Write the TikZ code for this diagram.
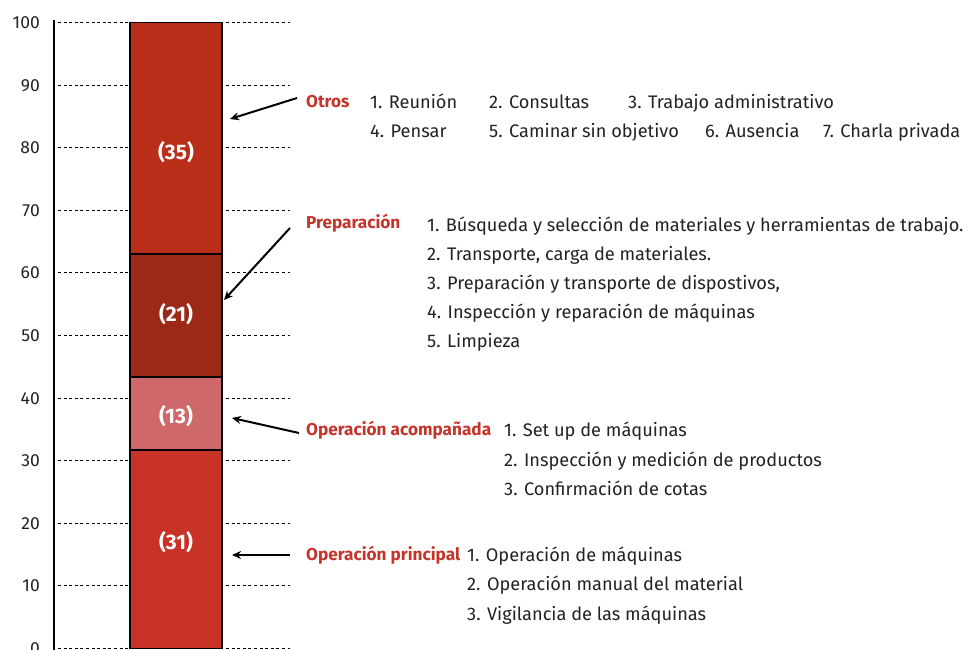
\documentclass[tikz,border=0pt]{standalone}
\usepackage{fontspec}
\setmainfont{Fira Sans}
\usetikzlibrary{arrows.meta}
\definecolor{segA}{HTML}{B82E19}
\definecolor{segB}{HTML}{9C2917}
\definecolor{segC}{HTML}{CE686A}
\definecolor{segD}{HTML}{C93226}
\definecolor{labred}{HTML}{C4342A}
\definecolor{txt}{HTML}{222222}
\tikzset{
  grid/.style={line width=1pt, dash pattern=on 3pt off 2.6pt, black},
  seg/.style={draw=black, line width=1.8pt},
  val/.style={text=white, font=\fontsize{21}{23}\selectfont\bfseries},
  tick/.style={anchor=base east, text=txt, font=\fontsize{17.5}{19}\selectfont, inner sep=0pt},
  cat/.style={anchor=base west, text=labred, font=\fontsize{17.2}{19}\selectfont\bfseries, inner sep=0pt},
  item/.style={anchor=base west, text=txt, font=\fontsize{18.2}{20}\selectfont, inner sep=0pt},
  arr/.style={-{Stealth[length=9pt,width=8pt]}, line width=2pt, black},
}
\begin{document}
\begin{tikzpicture}[x=1pt,y=-1pt]
\useasboundingbox (0,0) rectangle (969,650);
% grid lines
\foreach \v/\lab in {0/0,1/10,2/20,3/30,4/40,5/50,6/60,7/70,8/80,9/90,10/100}{
  \pgfmathsetmacro{\yy}{648.5-62.6*\v}
  \draw[grid] (58,\yy) -- (290,\yy);
  \node[tick] at (40,\yy+6) {\lab};
}
% axis
\draw[line width=2pt] (54,20) -- (54,651);
% bar segments
\fill[segD] (130,450) rectangle (222,648.5);
\fill[segC] (130,377) rectangle (222,450);
\fill[segB] (130,254) rectangle (222,377);
\fill[segA] (130,22.5) rectangle (222,254);
\draw[seg] (130,450) rectangle (222,648.5);
\draw[seg] (130,377) rectangle (222,450);
\draw[seg] (130,254) rectangle (222,377);
\draw[seg] (130,22.5) rectangle (222,254);
\node[val] (v35) at (176,152) {(35)};
\node[val] (v21) at (176,314) {(21)};
\node[val] (v13) at (176,416) {(13)};
\node[val] (v31) at (176,542) {(31)};
% arrow endpoints
\coordinate (tOtros) at (230,119);
\coordinate (tPrep) at (224,300);
\coordinate (tAcom) at (232,418);
\coordinate (tPrin) at (232,555);
\coordinate (sOtros) at (297,98);
\coordinate (sPrep) at (290,228);
\coordinate (sAcom) at (299,433);
\coordinate (sPrin) at (290,555);
\draw[arr] (sOtros) -- (tOtros);
\draw[arr] (sPrep) -- (tPrep);
\draw[arr] (sAcom) -- (tAcom);
\draw[arr] (sPrin) -- (tPrin);
% Otros
\node[cat] (cOtros) at (306,108) {Otros};
\node[item] (o1) at (370,108.5) {1. Reunión};
\node[item] (o2) at (489,108.5) {2. Consultas};
\node[item] (o3) at (628,108.5) {3. Trabajo administrativo};
\node[item] (o4) at (370,137.5) {4. Pensar};
\node[item] (o5) at (489,137.5) {5. Caminar sin objetivo};
\node[item] (o6) at (705,137.5) {6. Ausencia};
\node[item] (o7) at (823,137.5) {7. Charla privada};
% Preparacion
\node[cat] (cPrep) at (306,228) {Preparación};
\node[item] (p1) at (427,231) {1. Búsqueda y selección de materiales y herramientas de trabajo.};
\node[item] (p2) at (427,260) {2. Transporte, carga de materiales.};
\node[item] (p3) at (427,289) {3. Preparación y transporte de dispostivos,};
\node[item] (p4) at (427,318) {4. Inspección y reparación de máquinas};
\node[item] (p5) at (427,347) {5. Limpieza};
% Operacion acompanada
\node[cat] (cAcom) at (306,435) {Operación acompañada};
\node[item] (a1) at (504,436) {1. Set up de máquinas};
\node[item] (a2) at (504,466) {2. Inspección y medición de productos};
\node[item] (a3) at (504,495) {3. Confirmación de cotas};
% Operacion principal
\node[cat] (cPrin) at (306,560.5) {Operación principal};
\node[item] (r1) at (467,561) {1. Operación de máquinas};
\node[item] (r2) at (467,590) {2. Operación manual del material};
\node[item] (r3) at (467,620) {3. Vigilancia de las máquinas};
\end{tikzpicture}
\end{document}
